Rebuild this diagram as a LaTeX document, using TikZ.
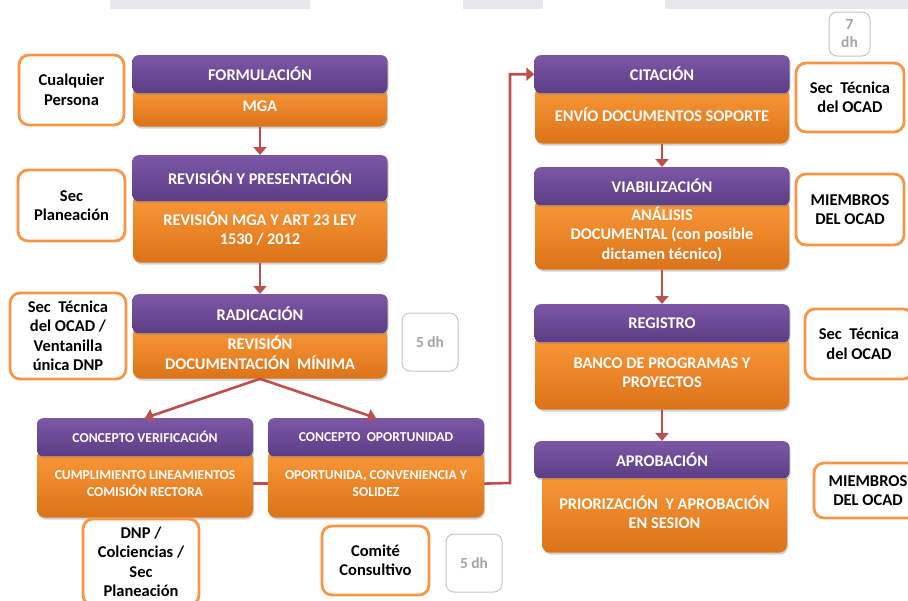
\documentclass[tikz,border=0pt]{standalone}
\usepackage{fontspec}
\setmainfont{Carlito}
\usetikzlibrary{positioning,shadows,backgrounds,arrows.meta}
\definecolor{cP}{rgb}{0.49,0.34,0.65}
\definecolor{cPd}{rgb}{0.36,0.24,0.52}
\definecolor{cO}{rgb}{0.98,0.60,0.22}
\definecolor{cOd}{rgb}{0.86,0.45,0.10}
\definecolor{cR}{rgb}{0.75,0.31,0.30}
\definecolor{cL}{rgb}{0.97,0.59,0.27}
\definecolor{cGr}{rgb}{0.78,0.78,0.78}
\definecolor{cGt}{rgb}{0.65,0.65,0.65}
\definecolor{cBand}{rgb}{0.91,0.91,0.92}
\tikzset{mytitle/.style={
  shape=rectangle,
  rounded corners=6pt,
  top color=cP,
  bottom color=cPd,
  draw=none,
  minimum width=255pt,
  minimum height=38pt,
  inner sep=2pt,
  text=white,
  align=center,
  font=\bfseries\fontsize{16.3}{19.5}\selectfont,
  drop shadow={shadow xshift=1pt,shadow yshift=-2pt,opacity=0.35},
  }
}
\tikzset{mybody/.style={
  shape=rectangle,
  rounded corners=8pt,
  top color=cO,
  bottom color=cOd,
  draw=none,
  minimum width=254pt,
  inner sep=2pt,
  text=white,
  align=center,
  font=\bfseries\fontsize{16.3}{19.5}\selectfont,
  drop shadow={shadow xshift=1pt,shadow yshift=-2pt,opacity=0.35},
  }
}
\tikzset{mysmall/.style={
  minimum width=216pt,
  font=\bfseries\fontsize{13.6}{17}\selectfont,
  }
}
\tikzset{mywho/.style={
  shape=rectangle,
  rounded corners=10pt,
  draw=cL,
  line width=2.8pt,
  fill=white,
  text=black,
  align=center,
  inner sep=2pt,
  minimum width=107pt,
  minimum height=70pt,
  font=\bfseries\fontsize{16.5}{19.5}\selectfont,
  }
}
\tikzset{mydays/.style={
  shape=rectangle,
  rounded corners=8pt,
  draw=cGr,
  line width=1pt,
  fill=white,
  text=cGt,
  align=center,
  inner sep=2pt,
  minimum width=56pt,
  minimum height=58pt,
  font=\bfseries\fontsize{15.5}{18}\selectfont,
  }
}
\tikzset{myarrow/.style={
  draw=cR,
  line width=2.6pt,
  -{Triangle[width=13pt,length=8pt]},
  }
}
\tikzset{mylink/.style={
  draw=cR,
  line width=2.6pt,
  }
}

\begin{document}
\begin{tikzpicture}[x=1pt,y=-1pt]
  \useasboundingbox (0,0) rectangle (908,600);
  \fill[cBand] (110,0) rectangle (310,9);
  \fill[cBand] (463,0) rectangle (543,9);
  \fill[cBand] (665,0) rectangle (908,9);

  % steps, left column
  \node[mytitle, anchor=north] (t1) at (260,55) {FORMULACIÓN};
  \node[mytitle, anchor=north, minimum height=46pt] (t2) at (260,155) {REVISIÓN Y PRESENTACIÓN};
  \node[mytitle, anchor=north, minimum height=39pt] (t3) at (260,294) {RADICACIÓN};
  \node[mytitle, mysmall, anchor=north] (t4) at (145,418) {CONCEPTO VERIFICACIÓN};
  \node[mytitle, mysmall, anchor=north] (t5) at (376,418) {CONCEPTO~ OPORTUNIDAD};
  % steps, right column
  \node[mytitle, anchor=north] (t6) at (662,55) {CITACIÓN};
  \node[mytitle, anchor=north] (t7) at (662,167) {VIABILIZACIÓN};
  \node[mytitle, anchor=north] (t8) at (662,304) {REGISTRO};
  \node[mytitle, anchor=north, minimum height=37pt] (t9) at (662,441) {APROBACIÓN};

  \begin{scope}[on background layer]
    \node[mybody, below=-7pt of t1, minimum height=40pt] (b1) {MGA};
    \node[mybody, below=-7pt of t2, minimum height=68pt] (b2) {REVISIÓN MGA Y ART 23 LEY\\1530 / 2012};
    \node[mybody, below=-7pt of t3, minimum height=52pt] (b3) {REVISIÓN\\DOCUMENTACIÓN~ MÍNIMA};
    \node[mybody, mysmall, below=-7pt of t4, minimum height=68pt] (b4) {CUMPLIMIENTO LINEAMIENTOS\\COMISIÓN RECTORA};
    \node[mybody, mysmall, below=-7pt of t5, minimum height=68pt] (b5) {OPORTUNIDA, CONVENIENCIA Y\\SOLIDEZ};
    \node[mybody, below=-7pt of t6, minimum height=57pt] (b6) {ENVÍO DOCUMENTOS SOPORTE};
    \node[mybody, below=-7pt of t7, minimum height=71pt] (b7) {ANÁLISIS\\DOCUMENTAL (con posible\\dictamen técnico)};
    \node[mybody, below=-7pt of t8, minimum height=74pt] (b8) {BANCO DE PROGRAMAS Y\\PROYECTOS};
    \node[mybody, below=-7pt of t9, xshift=2.5pt, minimum width=245pt, minimum height=81pt] (b9) {PRIORIZACIÓN~ Y APROBACIÓN\\EN SESION};
  \end{scope}

  % who does it
  \node[mywho, minimum width=105pt] (w1) at (71.5,90) {Cualquier\\Persona};
  \node[mywho, minimum height=71pt] (w2) at (71.5,205.5) {Sec\\Planeación};
  \node[mywho, minimum width=116pt, minimum height=86pt] (w3) at (68,336) {Sec~ Técnica\\del OCAD /\\Ventanilla\\única DNP};
  \node[mywho, minimum width=116pt, minimum height=86pt] (w4) at (141,562) {DNP /\\Colciencias /\\Sec\\Planeación};
  \node[mywho, minimum height=69pt] (w5) at (375.5,560.5) {Comité\\Consultivo};
  \node[mywho, minimum width=108pt, minimum height=69pt] (w6) at (850,97.5) {Sec~ Técnica\\del OCAD};
  \node[mywho, minimum width=108pt, minimum height=71pt] (w7) at (850,209.5) {MIEMBROS\\DEL OCAD};
  \node[mywho, minimum width=108pt] (w8) at (859,344) {Sec~ Técnica\\del OCAD};
  \node[mywho, minimum width=108pt, minimum height=55pt] (w9) at (868,490.5) {MIEMBROS\\DEL OCAD};

  % days
  \node[mydays] (d1) at (430,342) {5 dh};
  \node[mydays] (d2) at (474,563) {5 dh};
  \node[mydays, minimum width=41pt, minimum height=44pt] (d3) at (849.5,34) {7\\dh};

  \draw[myarrow] (b1.south) -- (t2.north);
  \draw[myarrow] (b2.south) -- (t3.north);
  \draw[myarrow] (b3.south) -- (t4.north);
  \draw[myarrow] (b3.south) -- (t5.north);
  \draw[myarrow] (b6.south) -- (t7.north);
  \draw[myarrow] (b7.south) -- (t8.north);
  \draw[myarrow] (b8.south) -- (t9.north);
  \coordinate (c1) at (510,483);
  \draw[mylink] (b4.east) -- (b5.west);
  \draw[myarrow] (b5.east) -- (c1) |- (t6.west);
\end{tikzpicture}
\end{document}
